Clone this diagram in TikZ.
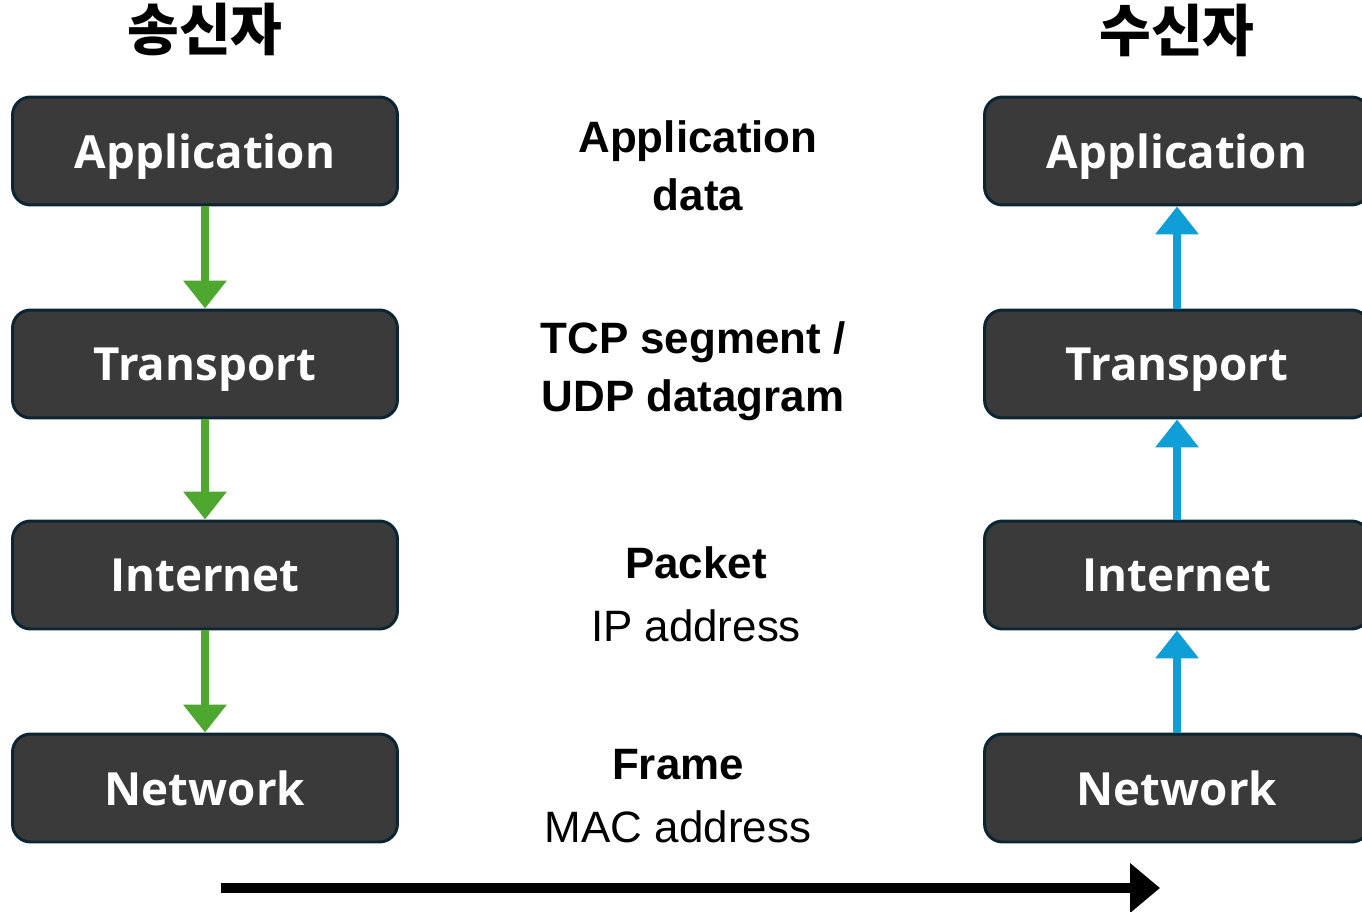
\documentclass[tikz,border=0pt]{standalone}
\usepackage{fontspec}
\setmainfont{Liberation Sans}
\newfontfamily\boxfont{Open Sans}
\newfontfamily\krfont{Noto Sans CJK KR}
\usetikzlibrary{arrows.meta}
\definecolor{boxfill}{HTML}{3A3A3A}
\definecolor{boxline}{HTML}{0B2533}
\definecolor{sendgreen}{HTML}{4EA72E}
\definecolor{recvblue}{HTML}{0F9ED5}
\tikzset{
  layer/.style={draw=boxline, line width=1.7pt, fill=boxfill, rounded corners=0.36cm,
    minimum width=7.7cm, minimum height=2.16cm, inner sep=0pt, text=white,
    text depth=0pt, font=\boxfont\bfseries\fontsize{26}{31}\selectfont},
  side/.style={font=\krfont\bfseries\fontsize{32}{36}\selectfont},
  pdu/.style={align=center, font=\fontsize{25}{33}\selectfont},
  downflow/.style={draw=sendgreen, line width=0.16cm, -{Triangle[length=0.56cm,width=0.84cm]}},
  upflow/.style={draw=recvblue, line width=0.16cm, -{Triangle[length=0.56cm,width=0.84cm]}},
  timeflow/.style={draw=black, line width=0.2cm, -{Triangle[length=0.6cm,width=0.96cm]}}
}
\begin{document}
\begin{tikzpicture}[x=0.02cm, y=-0.02cm]
  \path[use as bounding box] (0,0) rectangle (1362,912);
  \clip (0,0) rectangle (1362,912);

  % sender side
  \node[side] (sTitle) at (205,30) {송신자};
  \node[layer] (sApp) at (205,151) {Application};
  \node[layer] (sTrans) at (205,364) {Transport};
  \node[layer] (sInt) at (205,575) {Internet};
  \node[layer] (sNet) at (205,788) {Network};

  % receiver side
  \node[side] (rTitle) at (1177,30) {수신자};
  \node[layer] (rApp) at (1177,151) {Application};
  \node[layer] (rTrans) at (1177,364) {Transport};
  \node[layer] (rInt) at (1177,575) {Internet};
  \node[layer] (rNet) at (1177,788) {Network};

  % data units
  \node[pdu] (appData) at (698,166) {\bfseries Application\\\bfseries data};
  \node[pdu] (segData) at (693,371) {\bfseries TCP segment /\\\bfseries UDP datagram};
  \node[pdu] (pktData) at (696,594) {\bfseries Packet\\[3pt] IP address};
  \node[pdu] (frmData) at (678,796) {\bfseries Frame\\[3pt] MAC address};

  \draw[downflow] (sApp) -- (sTrans);
  \draw[downflow] (sTrans) -- (sInt);
  \draw[downflow] (sInt) -- (sNet);

  \draw[upflow] (rNet) -- (rInt);
  \draw[upflow] (rInt) -- (rTrans);
  \draw[upflow] (rTrans) -- (rApp);

  \coordinate (flowStart) at (221,888);
  \coordinate (flowEnd) at (1160,888);
  \draw[timeflow] (flowStart) -- (flowEnd);
\end{tikzpicture}
\end{document}
